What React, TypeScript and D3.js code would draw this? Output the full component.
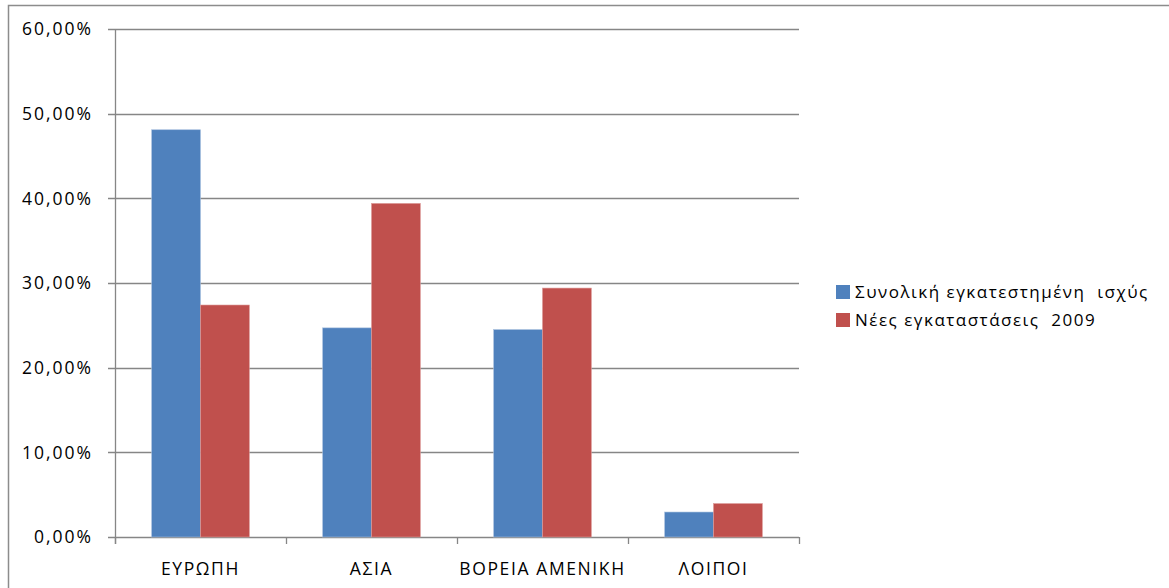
import React, { useRef, useEffect } from "react";
import * as d3 from "d3";

const categories = ["ΕΥΡΩΠΗ", "ΑΣΙΑ", "ΒΟΡΕΙΑ ΑΜΕΝΙΚΗ", "ΛΟΙΠΟΙ"];
const seriesNames = ["Συνολική εγκατεστημένη  ισχύς", "Νέες εγκαταστάσεις  2009"];
const totalCapacity = [48.1, 24.7, 24.5, 2.95];
const newInstalls2009 = [27.4, 39.4, 29.4, 3.95];
const yTicks = [0, 10, 20, 30, 40, 50, 60];

const colors = ["#4F81BD", "#C0504D"];
const font = "'Open Sans', sans-serif";

const App = () => {
  const svgRef = useRef(null);

  useEffect(() => {
    const width = 1169;
    const height = 588;
    const svg = d3.select(svgRef.current).attr("width", width).attr("height", height);
    svg.selectAll("*").remove();

    // chart frame
    svg
      .append("rect")
      .attr("x", 8.5)
      .attr("y", 5.5)
      .attr("width", 1180)
      .attr("height", 600)
      .attr("fill", "white")
      .attr("stroke", "#8c8c8c")
      .attr("stroke-width", 1.5);

    const left = 115, right = 799, top = 29, bottom = 537;

    const y = d3.scaleLinear().domain([0, 60]).range([bottom, top]);
    const x = d3.scaleBand().domain(categories).range([left, right]);
    const inner = d3
      .scaleBand()
      .domain(seriesNames)
      .range([0, x.bandwidth()])
      .paddingInner(0)
      .paddingOuter(0.75);

    // gridlines
    svg
      .append("g")
      .selectAll("line")
      .data(yTicks)
      .join("line")
      .attr("x1", left - 7)
      .attr("x2", right)
      .attr("y1", (d) => Math.round(y(d)) + 0.5)
      .attr("y2", (d) => Math.round(y(d)) + 0.5)
      .attr("stroke", "#868686")
      .attr("stroke-width", 1.3);

    svg
      .append("g")
      .selectAll("text")
      .data(yTicks)
      .join("text")
      .attr("x", 93)
      .attr("y", (d) => y(d))
      .attr("dy", "0.36em")
      .attr("text-anchor", "end")
      .style("font-family", font)
      .style("font-size", "17.5px")
      .style("letter-spacing", "2px")
      .attr("fill", "#000")
      .text((d) => d.toFixed(2).replace(".", ",") + "%");

    // bars
    const series = [totalCapacity, newInstalls2009];
    series.forEach((vals, si) => {
      svg
        .append("g")
        .selectAll("rect")
        .data(vals)
        .join("rect")
        .attr("x", (d, i) => x(categories[i]) + inner(seriesNames[si]))
        .attr("y", (d) => y(d))
        .attr("width", inner.bandwidth())
        .attr("height", (d) => bottom - y(d))
        .attr("fill", colors[si])
        .attr("stroke", si === 0 ? "#a9c0de" : "#dc9a98")
        .attr("stroke-width", 0.6);
    });

    // axes lines
    svg
      .append("line")
      .attr("x1", left + 0.5)
      .attr("x2", left + 0.5)
      .attr("y1", top)
      .attr("y2", bottom + 7)
      .attr("stroke", "#868686")
      .attr("stroke-width", 1.3);

    const boundaries = categories.map((c) => x(c)).concat([right]);
    svg
      .append("g")
      .selectAll("line")
      .data(boundaries)
      .join("line")
      .attr("x1", (d) => Math.round(d) + 0.5)
      .attr("x2", (d) => Math.round(d) + 0.5)
      .attr("y1", bottom)
      .attr("y2", bottom + 7)
      .attr("stroke", "#868686")
      .attr("stroke-width", 1.3);

    svg
      .append("g")
      .selectAll("text")
      .data(categories)
      .join("text")
      .attr("x", (d) => x(d) + x.bandwidth() / 2)
      .attr("y", 575)
      .attr("text-anchor", "middle")
      .style("font-family", font)
      .style("font-size", "17.5px")
      .style("letter-spacing", "1.6px")
      .attr("fill", "#000")
      .text((d) => d);

    // legend
    const legend = svg
      .append("g")
      .selectAll("g")
      .data(seriesNames)
      .join("g")
      .attr("transform", (d, i) => `translate(836, ${292 + i * 28})`);
    legend
      .append("rect")
      .attr("x", 0)
      .attr("y", -7)
      .attr("width", 14)
      .attr("height", 14)
      .attr("fill", (d, i) => colors[i]);
    legend
      .append("text")
      .attr("x", 19)
      .attr("y", 0)
      .attr("dy", "0.36em")
      .style("font-family", font)
      .style("font-size", "17px")
      .style("letter-spacing", "1.5px")
      .style("white-space", "pre")
      .attr("fill", "#000")
      .text((d) => d);
  }, []);

  return (
    <svg ref={svgRef} style={{ position: "absolute", left: 0, top: 0, display: "block" }}></svg>
  );
};

export default App;
